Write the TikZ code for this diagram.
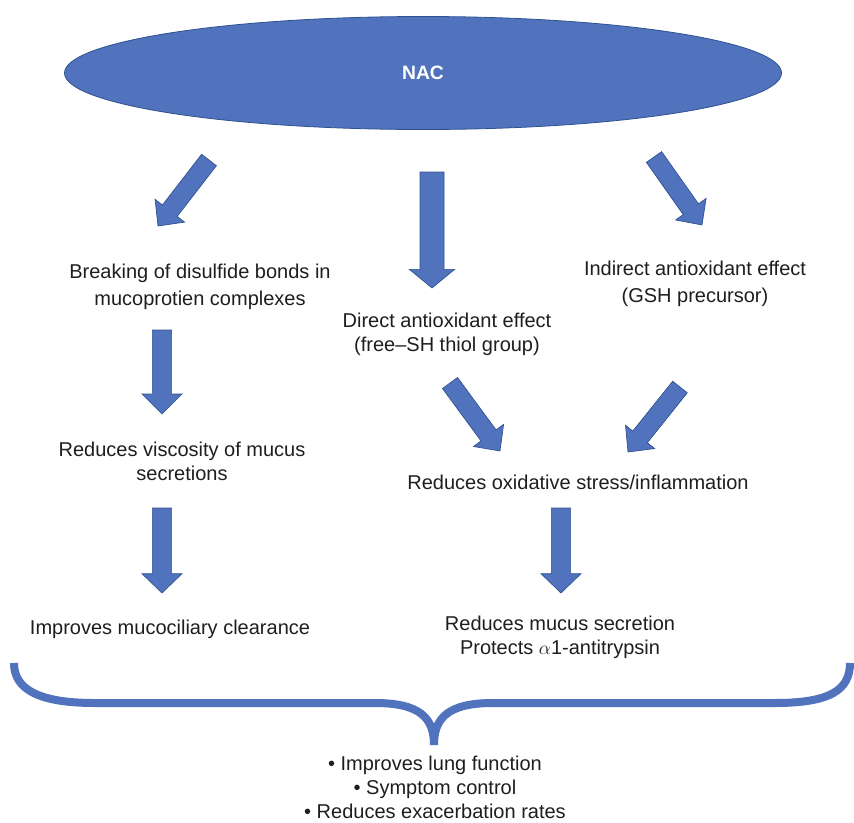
\documentclass[tikz,border=0pt]{standalone}
\usepackage{fontspec}
\setmainfont{Liberation Sans}
\usetikzlibrary{calc,shapes.geometric}
\definecolor{nacblue}{RGB}{81,114,189}
\definecolor{nacedge}{RGB}{47,82,143}
\definecolor{txt}{RGB}{30,30,30}
\tikzset{
  lbl/.style={align=center, font=\fontsize{15}{18}\selectfont, text=txt, inner sep=0pt},
  lblwide/.style={lbl, font=\fontsize{15}{20}\selectfont},
  blockarrow/.style={fill=nacblue, draw=nacedge, line width=0.5pt, line join=miter},
  bracestyle/.style={draw=nacblue, line width=6pt, line cap=butt},
}
% tail, tip, half shaft, half head, head length, name
\newcommand{\blockarr}[6]{%
  \coordinate (#6h) at ($(#2)!#5!(#1)$);
  \filldraw[blockarrow] ($(#1)!#3!90:(#2)$) -- ($(#6h)!#3!90:(#2)$) -- ($(#6h)!#4!90:(#2)$)
    -- (#2) -- ($(#6h)!#4!-90:(#2)$) -- ($(#6h)!#3!-90:(#2)$) -- ($(#1)!#3!-90:(#2)$) -- cycle;
}
\begin{document}
\begin{tikzpicture}[x=0.75pt,y=-0.75pt]
\useasboundingbox (0,0) rectangle (854,822);

% NAC ellipse
\node[ellipse, fill=nacblue, draw=nacedge, line width=0.6pt, minimum width=537.75pt, minimum height=84.75pt,
      text=white, font=\fontsize{14.5}{17}\selectfont\bfseries, inner sep=0pt] (nac) at (423,73) {NAC};

% texts
\node[lblwide] (brk) at (200,287) {Breaking of disulfide bonds in\\mucoprotien complexes};
\node[lbl] (dir) at (447,334) {Direct antioxidant effect\\(free--SH thiol group)};
\node[lblwide] (ind) at (695,284) {Indirect antioxidant effect\\(GSH precursor)};
\node[lbl] (visc) at (182,461) {Reduces viscosity of mucus\\secretions};
\node[lbl] (ox) at (578,482) {Reduces oxidative stress/inflammation};
\node[lbl] (muc) at (170,629) {Improves mucociliary clearance};
\node[lbl] (sec) at (560,637) {Reduces mucus secretion\\Protects $\alpha$1-antitrypsin};
\node[lbl] (out) at (435,787) {\textbullet\ Improves lung function\\\textbullet\ Symptom control\\\textbullet\ Reduces exacerbation rates};

% arrow coordinates
\coordinate (a1t) at (209,160); \coordinate (a1e) at (158,226);
\coordinate (a2t) at (432,172); \coordinate (a2e) at (432,288);
\coordinate (a3t) at (654,157); \coordinate (a3e) at (702,225);
\coordinate (a4t) at (162,330); \coordinate (a4e) at (162,414);
\coordinate (a5t) at (162,508); \coordinate (a5e) at (162,593);
\coordinate (a6t) at (450,383); \coordinate (a6e) at (500,451);
\coordinate (a7t) at (680,387); \coordinate (a7e) at (628,452);
\coordinate (a8t) at (561,508); \coordinate (a8e) at (561,593);

\blockarr{a1t}{a1e}{7pt}{14pt}{14.5pt}{a1}
\blockarr{a2t}{a2e}{9pt}{17pt}{14pt}{a2}
\blockarr{a3t}{a3e}{7pt}{14pt}{14.5pt}{a3}
\blockarr{a4t}{a4e}{7.2pt}{15pt}{15pt}{a4}
\blockarr{a5t}{a5e}{7.2pt}{15pt}{14.5pt}{a5}
\blockarr{a6t}{a6e}{7pt}{14pt}{14.5pt}{a6}
\blockarr{a7t}{a7e}{7pt}{14pt}{14.5pt}{a7}
\blockarr{a8t}{a8e}{7.2pt}{15pt}{14.5pt}{a8}

% brace
\draw[bracestyle] (14,663) .. controls (14,690) and (40,703) .. (95,703) -- (375,703)
  .. controls (420,703) and (434,718) .. (434,745);
\draw[bracestyle] (434,745) .. controls (434,718) and (448,703) .. (493,703) -- (775,703)
  .. controls (830,703) and (850,690) .. (850,663);
\end{tikzpicture}
\end{document}
